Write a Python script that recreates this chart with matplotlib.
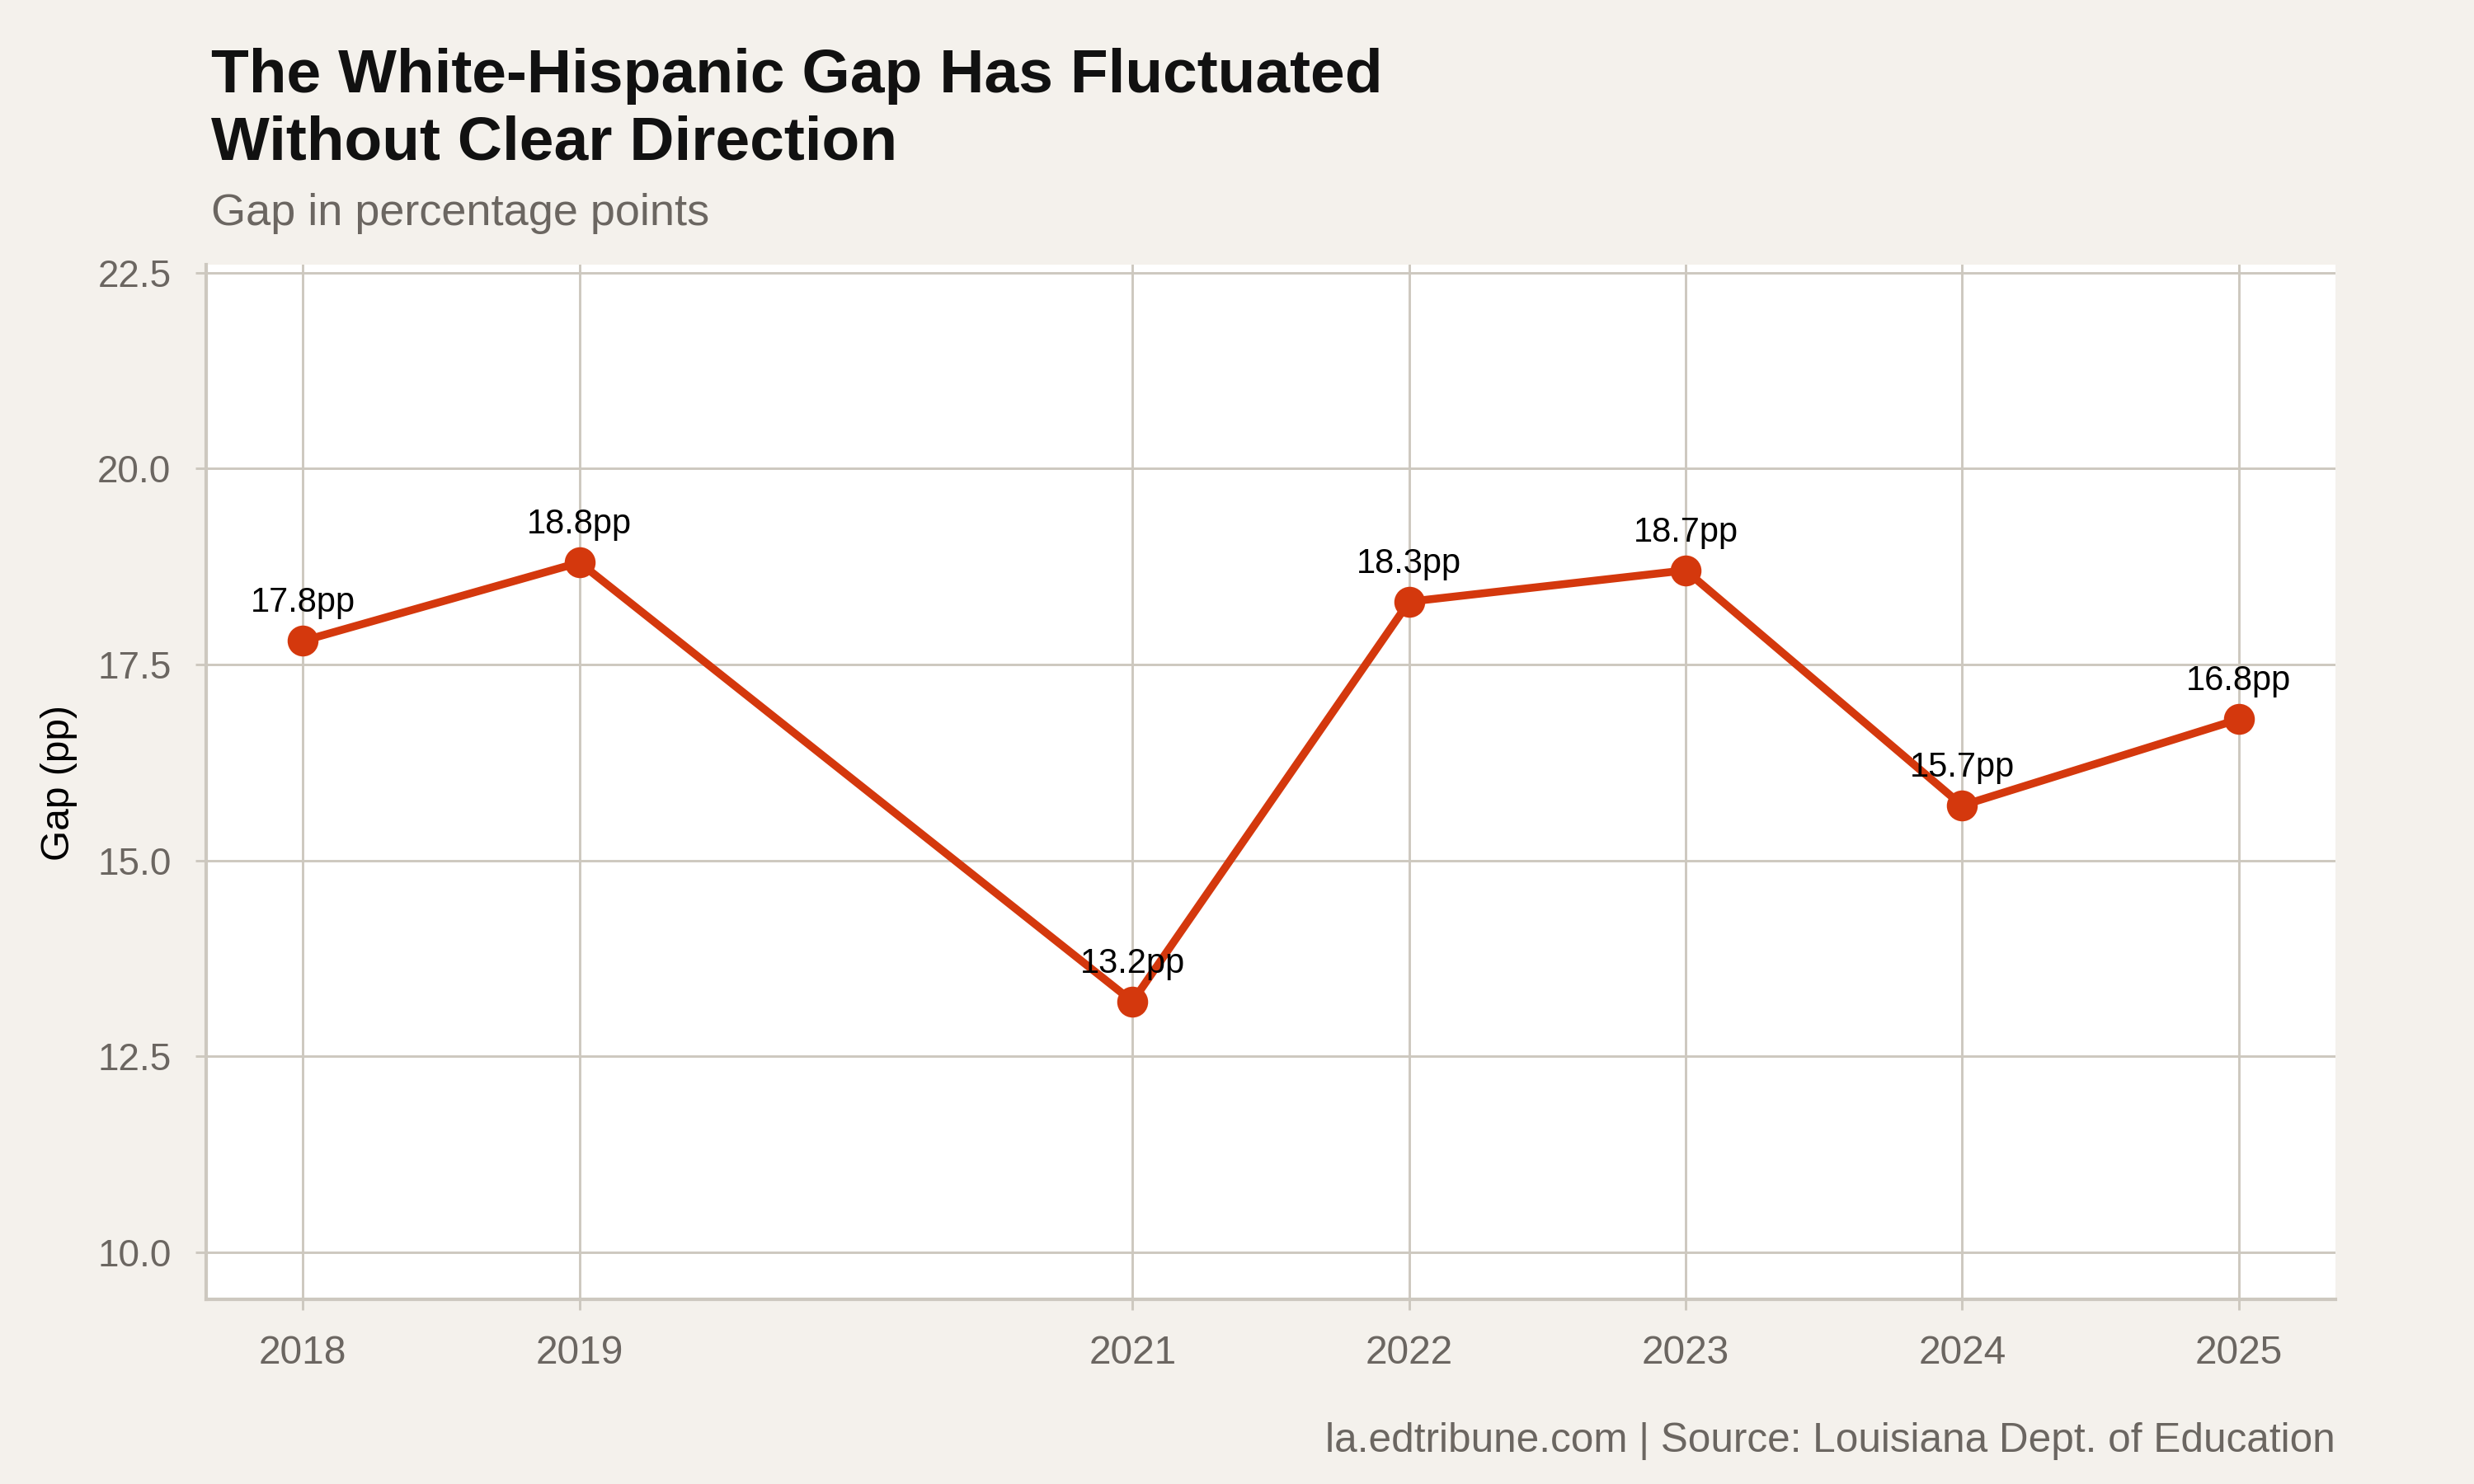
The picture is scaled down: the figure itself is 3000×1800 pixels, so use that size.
import matplotlib
matplotlib.use("Agg")
import matplotlib.pyplot as plt

# Data
years = [2018, 2019, 2021, 2022, 2023, 2024, 2025]
gap = [17.8, 18.8, 13.2, 18.3, 18.7, 15.7, 16.8]
y_ticks = [10.0, 12.5, 15.0, 17.5, 20.0, 22.5]

plt.rcParams['font.family'] = ['Liberation Sans', 'DejaVu Sans']

BG = '#f4f1ec'
GRID = '#cdc8bf'
GRAY = '#6b6661'
RED = '#d4380d'

W, H = 3000, 1800
fig = plt.figure(figsize=(10, 6), dpi=300, facecolor=BG)
ax = fig.add_axes([250 / W, 1 - 1576 / H, (2832 - 250) / W, (1576 - 321) / H])
ax.set_facecolor('white')

# line with point markers
ax.plot(years, gap, color=RED, lw=2.3, marker='o', ms=8, zorder=3)
for x, y in zip(years, gap):
    ax.annotate(f"{y:.1f}pp", (x, y), xytext=(0, 8.4), textcoords='offset points',
                ha='center', va='baseline', fontsize=10, color='black', zorder=4)

ax.set_xlim(2017.65, 2025.35)
ax.set_ylim(9.4, 22.6)
ax.set_xticks(years)
ax.set_xticklabels([str(y) for y in years])
ax.set_yticks(y_ticks)
ax.set_yticklabels([f"{t:.1f}" for t in y_ticks])

ax.grid(True, color=GRID, lw=0.7)
ax.set_axisbelow(True)
for s in ['top', 'right']:
    ax.spines[s].set_visible(False)
for s in ['left', 'bottom']:
    ax.spines[s].set_color(GRID)
    ax.spines[s].set_linewidth(1.0)
ax.tick_params(axis='both', colors=GRID, length=3.2, width=0.7, labelsize=11,
               labelcolor=GRAY)
ax.tick_params(axis='x', pad=7, labelsize=11.5)
ax.tick_params(axis='y', pad=7)

# y label placed in figure pixels
fig.text(71 / W, 1 - 950 / H, 'Gap (pp)', rotation=90, fontsize=11.5, color='black',
         ha='center', va='center')

fig.text(256 / W, 1 - 112 / H, 'The White-Hispanic Gap Has Fluctuated',
         fontsize=18, fontweight='bold', color='#111111', va='baseline', ha='left')
fig.text(256 / W, 1 - 193 / H, 'Without Clear Direction',
         fontsize=18, fontweight='bold', color='#111111', va='baseline', ha='left')
fig.text(256 / W, 1 - 273 / H, 'Gap in percentage points',
         fontsize=13, color=GRAY, va='baseline', ha='left')
fig.text(2832 / W, 1 - 1761 / H, 'la.edtribune.com | Source: Louisiana Dept. of Education',
         fontsize=11.9, color=GRAY, va='baseline', ha='right')

fig.savefig('out.png', dpi=300, facecolor=BG)
